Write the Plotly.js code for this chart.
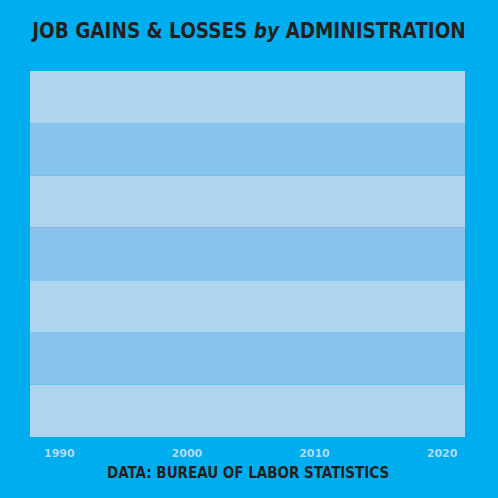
<!DOCTYPE html>
<html>
<head>
<meta charset="utf-8">
<script src="https://cdn.plot.ly/plotly-3.0.1.min.js"></script>
<style>
  body { margin: 0; background: #00aeef; }
  #chart { width: 498px; height: 498px; }
</style>
</head>
<body>
<div id="chart"></div>
<script>
// Administrations shown on the time axis (chart is at its first frame: all bars at zero)
const administrations = ['Bush', 'Clinton', 'Bush', 'Obama', 'Trump'];
const startYears = [1989, 1993, 2001, 2009, 2017];
const endYears = [1993, 2001, 2009, 2017, 2021];
const jobChange = [0, 0, 0, 0, 0];

const tickYears = [1990, 2000, 2010, 2020];
const bandEdges = [-800, -600, -400, -200, 0, 200, 400, 600];

const BG = '#00aeef';
const LIGHT_BAND = '#aed4f0';
const DARK_BAND = '#88c4ec';

// alternating horizontal bands behind the bars
const shapes = [];
for (let i = 0; i < bandEdges.length - 1; i++) {
    shapes.push({
        type: 'rect',
        layer: 'below',
        xref: 'paper', x0: 0, x1: 1,
        yref: 'y', y0: bandEdges[i], y1: bandEdges[i + 1],
        fillcolor: i % 2 === 0 ? LIGHT_BAND : DARK_BAND,
        line: { width: 0 }
    });
}

const data = [{
    type: 'bar',
    x: startYears.map((s, i) => (s + endYears[i]) / 2),
    y: jobChange,
    width: startYears.map((s, i) => endYears[i] - s),
    text: administrations,
    hoverinfo: 'text',
    marker: { color: '#8e8fc4' },
    showlegend: false
}];

const layout = {
    width: 498,
    height: 498,
    paper_bgcolor: BG,
    plot_bgcolor: BG,
    margin: { l: 30, r: 33, t: 71, b: 61 },
    title: {
        text: 'JOB GAINS &amp; LOSSES <i>by</i> ADMINISTRATION',
        font: { family: 'DejaVu Sans Condensed', size: 20.5, color: '#231f20', weight: 'bold' },
        x: 0.5,
        xanchor: 'center',
        y: 0.938,
        yanchor: 'middle'
    },
    xaxis: {
        range: [1987.7, 2021.8],
        tickvals: tickYears,
        ticktext: tickYears.map(String),
        showgrid: false,
        zeroline: false,
        ticks: '',
        ticklabelstandoff: 8,
        tickfont: { family: 'DejaVu Sans', size: 11, color: '#b3d9f2', weight: 'bold' },
        fixedrange: true
    },
    yaxis: {
        range: [bandEdges[0], bandEdges[bandEdges.length - 1]],
        showticklabels: false,
        showgrid: false,
        zeroline: true,
        zerolinecolor: 'rgba(150,150,200,0.45)',
        zerolinewidth: 1,
        fixedrange: true
    },
    shapes: shapes,
    annotations: [{
        text: 'DATA: BUREAU OF LABOR STATISTICS',
        xref: 'paper', yref: 'paper',
        x: 0.5, y: -0.098,
        xanchor: 'center', yanchor: 'middle',
        showarrow: false,
        font: { family: 'DejaVu Sans Condensed', size: 15, color: '#231f20', weight: 'bold' }
    }]
};

Plotly.newPlot('chart', data, layout, { displayModeBar: false, staticPlot: true });
</script>
</body>
</html>
